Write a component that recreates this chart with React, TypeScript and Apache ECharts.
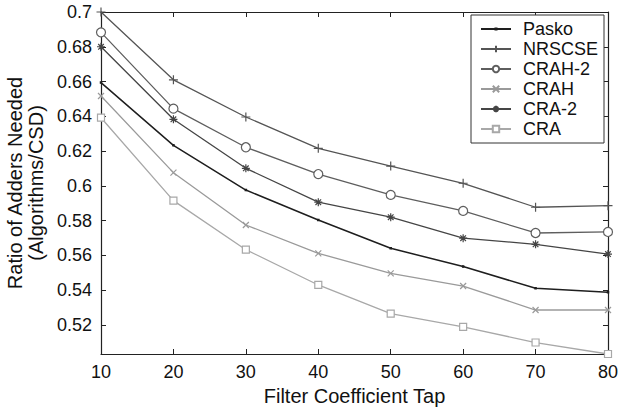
import React, { useEffect, useRef } from "react";
import * as echarts from "echarts";

const taps = [10, 20, 30, 40, 50, 60, 70, 80];
const pasko = [0.6594, 0.6233, 0.5976, 0.5804, 0.5641, 0.5536, 0.5411, 0.5388];
const nrscse = [0.7, 0.661, 0.6396, 0.6216, 0.6114, 0.6015, 0.5877, 0.5886];
const crah2 = [0.6883, 0.6444, 0.6222, 0.6068, 0.5948, 0.5856, 0.5729, 0.5735];
const crah = [0.6517, 0.6076, 0.5775, 0.5612, 0.5497, 0.5424, 0.5286, 0.5286];
const cra2 = [0.68, 0.6383, 0.6101, 0.5906, 0.582, 0.5699, 0.5664, 0.5608];
const cra = [0.6392, 0.5915, 0.5633, 0.543, 0.5265, 0.5189, 0.5099, 0.5033];
const yTicks = [0.52, 0.54, 0.56, 0.58, 0.6, 0.62, 0.64, 0.66, 0.68, 0.7];
const xTicks = [10, 20, 30, 40, 50, 60, 70, 80];

const FONT = "'Liberation Sans', Arial, sans-serif";
const DOT = "path://M0,0L0,0M10,10L10,10M4.2,4.2L5.8,4.2L5.8,5.8L4.2,5.8Z";
const PLUS = "path://M5,0L5,10M0,5L10,5";
const CROSS = "path://M0,0L10,10M0,10L10,0";
const STAR = "path://M5,0L5,10M0,5L10,5M1.5,1.5L8.5,8.5M1.5,8.5L8.5,1.5";

export default function App() {
  const ref = useRef<HTMLDivElement>(null);
  useEffect(() => {
    if (!ref.current) return;
    const chart = echarts.init(ref.current, null, { renderer: "svg" });
    const mk = (name: string, vals: number[], color: string, symbol: string, size: number, width: number, fill?: string) => ({
      name,
      type: "line",
      data: taps.map((t, i) => [t, vals[i]]),
      symbol,
      symbolSize: size,
      showAllSymbol: true,
      lineStyle: { color, width },
      itemStyle: { color: fill || color, borderColor: color, borderWidth: 1.2 },
      z: 3,
    });
    const axisLine = { show: true, lineStyle: { color: "#222", width: 1.2 } };
    chart.setOption({
      animation: false,
      textStyle: { fontFamily: FONT, fontWeight: "normal" },
      grid: { left: 101, right: 10, top: 12, bottom: 57, containLabel: false, outerBoundsMode: "none" },
      legend: {
        orient: "vertical",
        left: 471,
        top: 15,
        padding: [4, 6, 4, 9],
        itemWidth: 30,
        itemHeight: 8,
        itemGap: 0,
        borderColor: "#333",
        borderWidth: 1,
        backgroundColor: "#fff",
        textStyle: { fontSize: 18, color: "#111", fontFamily: FONT, fontWeight: "normal", lineHeight: 20, padding: [0, 0, 0, 7] },
        data: ["Pasko", "NRSCSE", "CRAH-2", "CRAH", "CRA-2", "CRA"],
      },
      xAxis: [
        {
          type: "value",
          min: 10,
          max: 80,
          interval: 10,
          position: "bottom",
          name: "Filter Coefficient Tap",
          nameLocation: "middle",
          nameGap: 30,
          nameTextStyle: { fontSize: 20, color: "#111", fontFamily: FONT, fontWeight: "normal" },
          axisLine,
          axisTick: { show: true, inside: true, length: 5, lineStyle: { color: "#222" } },
          axisLabel: { fontSize: 18, color: "#111", margin: 9, fontFamily: FONT, customValues: xTicks },
          splitLine: { show: false },
        },
        {
          type: "value",
          min: 10,
          max: 80,
          interval: 10,
          position: "top",
          axisLine,
          axisTick: { show: true, inside: true, length: 5, lineStyle: { color: "#222" } },
          axisLabel: { show: false },
          splitLine: { show: false },
        },
      ],
      yAxis: [
        {
          type: "value",
          min: 0.5033,
          max: 0.7,
          position: "left",
          name: "Ratio of Adders Needed\n(Algorithms/CSD)",
          nameLocation: "middle",
          nameGap: 55,
          nameTextStyle: { fontSize: 20, color: "#111", fontFamily: FONT, fontWeight: "normal", lineHeight: 21 },
          axisLine,
          axisTick: { show: true, inside: true, length: 5, lineStyle: { color: "#222" }, customValues: yTicks },
          axisLabel: {
            fontSize: 18,
            color: "#111",
            margin: 9,
            fontFamily: FONT,
            customValues: yTicks,
            formatter: (v: number) => String(+v.toFixed(2)),
          },
          splitLine: { show: false },
        },
        {
          type: "value",
          min: 0.5033,
          max: 0.7,
          position: "right",
          axisLine,
          axisTick: { show: true, inside: true, length: 5, lineStyle: { color: "#222" }, customValues: yTicks },
          axisLabel: { show: false, customValues: yTicks },
          splitLine: { show: false },
        },
      ],
      series: [
        mk("Pasko", pasko, "#1e1e1e", DOT, 8, 1.5),
        mk("NRSCSE", nrscse, "#555555", PLUS, 9, 1.3),
        mk("CRAH-2", crah2, "#5e5e5e", "circle", 9, 1.3, "#ffffff"),
        mk("CRAH", crah, "#9a9a9a", CROSS, 6, 1.3),
        mk("CRA-2", cra2, "#454545", STAR, 8, 1.3),
        mk("CRA", cra, "#a8a8a8", "rect", 7, 1.3, "#ffffff"),
      ],
    });
    return () => chart.dispose();
  }, []);
  return <div ref={ref} style={{ position: "absolute", left: 0, top: 0, width: 618, height: 411, background: "#fff" }} />;
}
